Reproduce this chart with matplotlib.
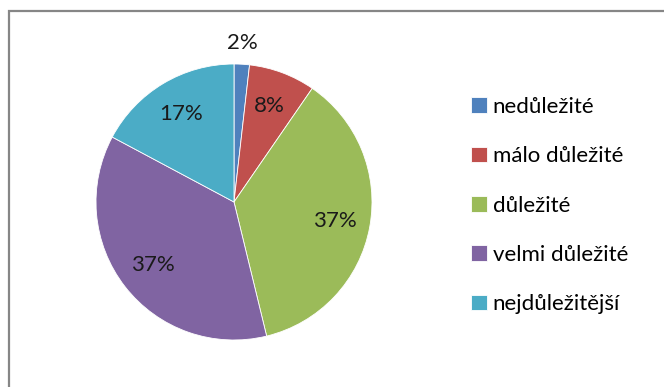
import matplotlib.pyplot as plt
from matplotlib.patches import Rectangle

plt.rcParams['font.family'] = ['Lato', 'DejaVu Sans']

# odpovedi v procentech
kategorie = ['nedůležité', 'málo důležité', 'důležité', 'velmi důležité', 'nejdůležitější']
podily = [1.8, 7.8, 36.6, 36.6, 17.2]
barvy = ['#4F81BD', '#C0504D', '#9BBB59', '#8064A2', '#4BACC6']

W, H = 664, 387
fig = plt.figure(figsize=(W / 100, H / 100), dpi=100)

# sedy ramecek grafu (pravy a dolni okraj je mimo obrazek)
fig.patches.append(Rectangle((8.5 / W, -0.1), 1.2, (H - 10.5) / H + 0.1,
                             transform=fig.transFigure, fill=False,
                             edgecolor='#868686', linewidth=1.6))

cx, cy, r = 234, 202, 138
box = 150
ax = fig.add_axes([(cx - box) / W, (H - cy - box) / H, 2 * box / W, 2 * box / H])

wedges, texts, autotexts = ax.pie(
    podily, colors=barvy, startangle=90, counterclock=False,
    autopct='%.0f%%', pctdistance=0.74, radius=1,
    wedgeprops=dict(edgecolor='white', linewidth=0.6),
    textprops=dict(fontsize=16, color='#1a1a1a'))

# nejmensi vysec ma popisek vne kolace
autotexts[0].set_position((0.06, 1.15))

lim = box / r
ax.set_xlim(-lim, lim)
ax.set_ylim(-lim, lim)
ax.set_aspect('equal')
ax.axis('off')

fig.legend(wedges, kategorie, loc='upper left',
           bbox_to_anchor=(471 / W, (H - 97) / H), frameon=False,
           fontsize=16, handlelength=0.72, handleheight=0.72,
           handletextpad=0.25, labelspacing=1.32, borderpad=0,
           borderaxespad=0)

fig.savefig('out.png', dpi=100)
